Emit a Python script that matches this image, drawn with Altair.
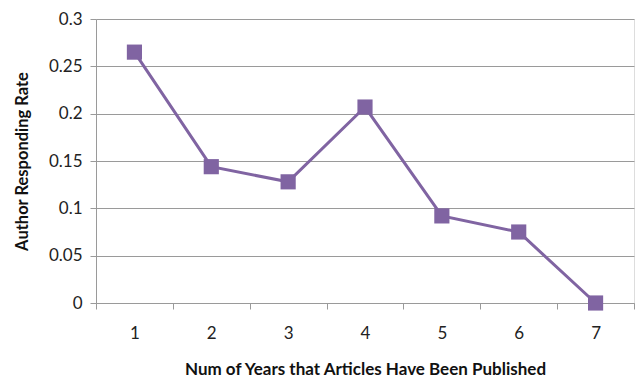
import altair as alt
import pandas as pd

years = [1, 2, 3, 4, 5, 6, 7]
rates = [0.265, 0.144, 0.128, 0.207, 0.092, 0.075, 0.0]
x_labels = [1, 2, 3, 4, 5, 6, 7]
x_ticks = [0.5, 1.5, 2.5, 3.5, 4.5, 5.5, 6.5, 7.5]
y_ticks = [0, 0.05, 0.1, 0.15, 0.2, 0.25, 0.3]

df = pd.DataFrame({"year": years, "rate": rates})

PURPLE = "#8064A2"
GRID = "#9a9a9a"
FONT = "Lato"

xscale = alt.Scale(domain=[0.5, 7.5], nice=False, zero=False)
yscale = alt.Scale(domain=[0, 0.3], nice=False)

base = alt.Chart(df)

line = base.mark_line(color=PURPLE, strokeWidth=3).encode(
    x=alt.X("year:Q", scale=xscale,
            axis=alt.Axis(values=x_labels, ticks=False, grid=False, domain=True,
                          domainColor=GRID, labelFontSize=17, labelColor="#222",
                          labelFont=FONT, labelPadding=22, format="d",
                          title="Num of Years that Articles Have Been Published",
                          titleFont=FONT, titleFontSize=17, titleFontWeight="bold",
                          titleColor="#111", titlePadding=20, orient="bottom")),
    y=alt.Y("rate:Q", scale=yscale,
            axis=alt.Axis(values=y_ticks, grid=True, gridColor=GRID, tickColor=GRID,
                          tickSize=6, domainColor=GRID, labelFontSize=17,
                          labelColor="#222", labelFont=FONT, labelPadding=8,
                          format="~g",
                          title="Author Responding Rate", titleFont=FONT,
                          titleFontSize=16.5, titleFontWeight="bold",
                          titleColor="#111", titlePadding=18)),
)

points = base.mark_square(color=PURPLE, size=230, opacity=1).encode(
    x=alt.X("year:Q", scale=xscale,
            axis=alt.Axis(values=x_ticks, labels=False, grid=False, domain=False,
                          ticks=True, tickColor=GRID, tickSize=6, title=None,
                          orient="bottom")),
    y=alt.Y("rate:Q", scale=yscale),
)

chart = alt.layer(line, points).resolve_axis(x="independent").properties(
    width=538, height=284,
    autosize=alt.AutoSizeParams(type="none"),
    padding={"left": 96, "top": 19, "right": 7, "bottom": 78},
).configure_view(stroke=None).configure(background="white")

chart.save("out.html", embed_options={"renderer": "svg", "actions": False})
